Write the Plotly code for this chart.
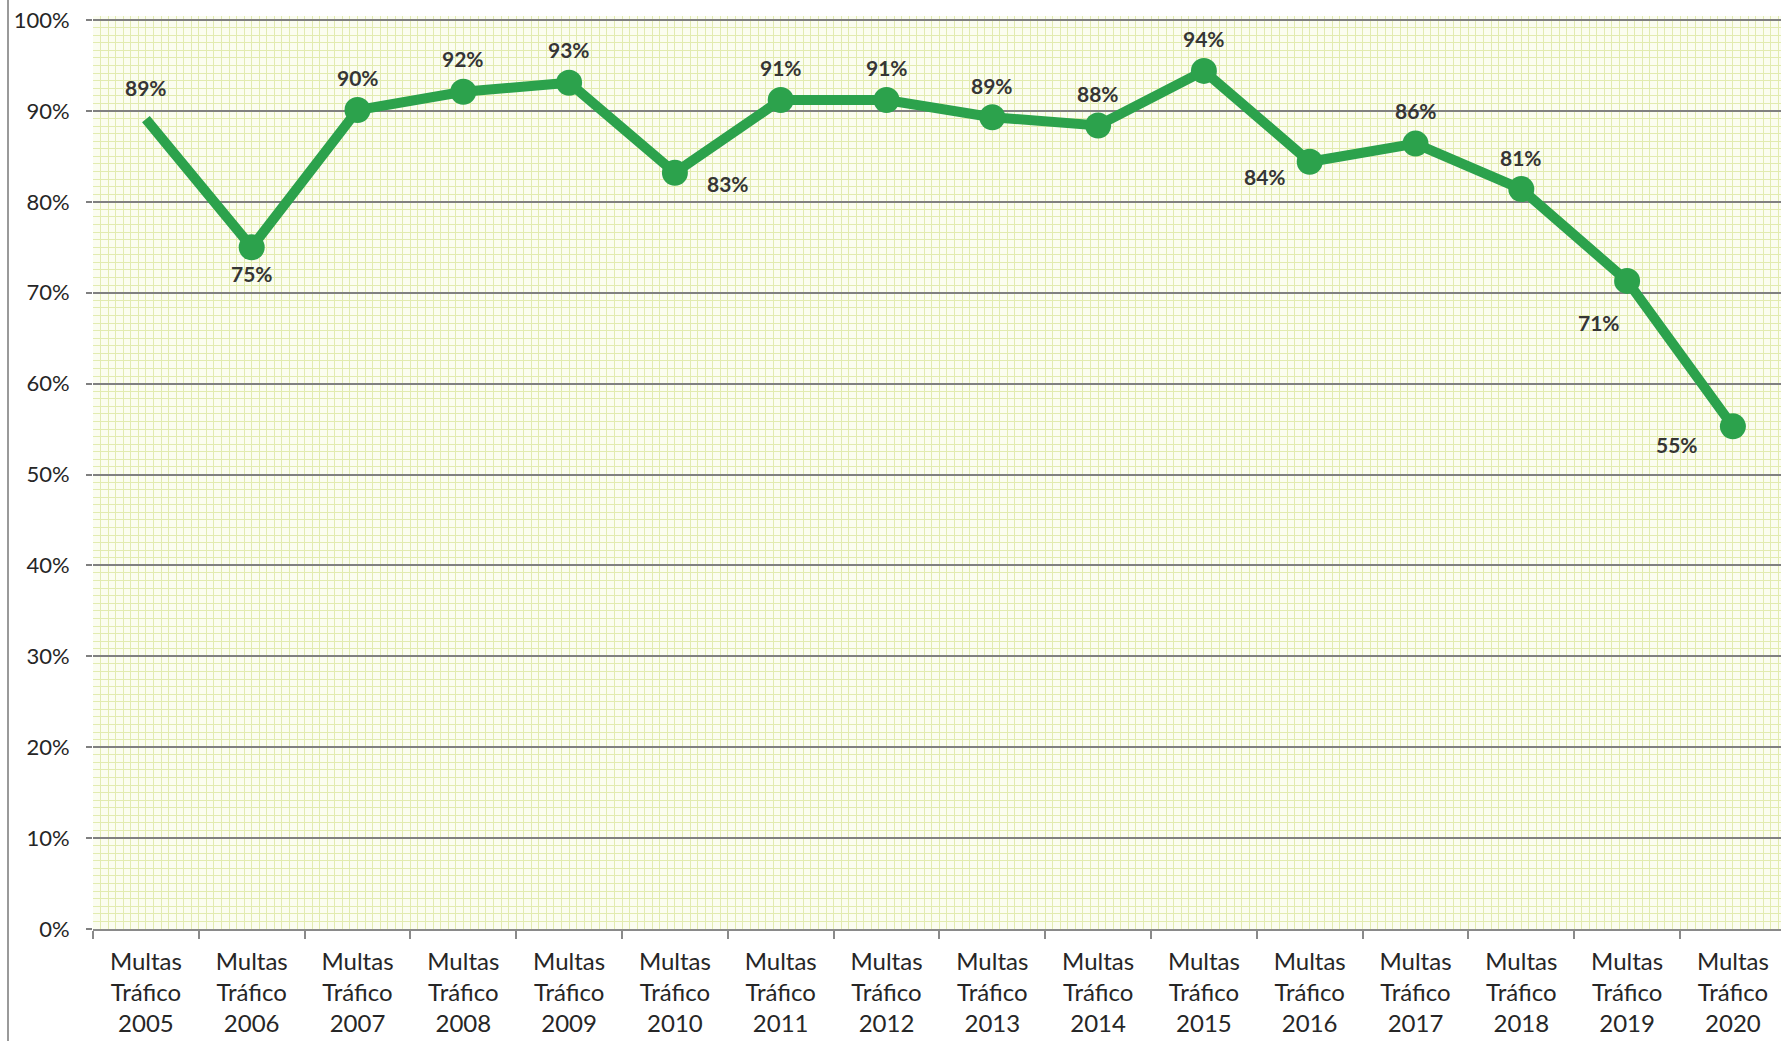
import plotly.graph_objects as go

categories = ["Multas<br>Tráfico<br>2005", "Multas<br>Tráfico<br>2006", "Multas<br>Tráfico<br>2007",
              "Multas<br>Tráfico<br>2008", "Multas<br>Tráfico<br>2009", "Multas<br>Tráfico<br>2010",
              "Multas<br>Tráfico<br>2011", "Multas<br>Tráfico<br>2012", "Multas<br>Tráfico<br>2013",
              "Multas<br>Tráfico<br>2014", "Multas<br>Tráfico<br>2015", "Multas<br>Tráfico<br>2016",
              "Multas<br>Tráfico<br>2017", "Multas<br>Tráfico<br>2018", "Multas<br>Tráfico<br>2019",
              "Multas<br>Tráfico<br>2020"]
values = [0.891, 0.750, 0.901, 0.921, 0.931, 0.832, 0.912, 0.912, 0.893, 0.884,
          0.944, 0.844, 0.864, 0.814, 0.713, 0.553]
y_ticks = [0, 0.1, 0.2, 0.3, 0.4, 0.5, 0.6, 0.7, 0.8, 0.9, 1.0]

# label offsets from their point, in pixels (dx right, dy down) — styling only
label_offsets = [(0, -32), (0, 26), (0, -32), (0, -33), (0, -33), (53, 11), (0, -32), (0, -32),
                 (0, -32), (0, -32), (0, -32), (-45, 15), (0, -33), (0, -32), (-28, 42), (-56, 18)]

W, H = 1781, 1041
PAD = 4  # extra pixels above 100% so its gridline is not dropped at the edge
ML, MR, MT, MB = 93, 0, 20 - PAD, 112
GREEN = "#2ca24c"
FONT = "Lato"
LABEL_COLOR = "#353535"

idx = list(range(len(categories)))
marker_opacity = [0] + [1] * (len(categories) - 1)

fig = go.Figure()
fig.add_trace(go.Scatter(
    x=idx, y=values, mode="lines+markers",
    line=dict(color=GREEN, width=10),
    marker=dict(size=26, color=GREEN, opacity=marker_opacity),
    cliponaxis=False, showlegend=False, hoverinfo="skip",
))
# invisible companion trace so the overlay axis (category boundary ticks) is drawn
fig.add_trace(go.Scatter(x=idx, y=values, xaxis="x2", mode="lines", opacity=0,
                         showlegend=False, hoverinfo="skip"))

for i, v in enumerate(values):
    dx, dy = label_offsets[i]
    fig.add_annotation(x=idx[i], y=v, text=f"{round(v*100)}%", showarrow=False,
                       xshift=dx, yshift=-dy,
                       font=dict(family=FONT, size=21, color=LABEL_COLOR, weight="bold"))

plot_w = W - ML - MR
plot_h = H - MT - MB
xr = [-0.5, -0.5 + plot_w / 105.8]
yr = [0, (plot_h / (plot_h - PAD))]

fig.update_layout(
    width=W, height=H,
    margin=dict(l=ML, r=MR, t=MT, b=MB, autoexpand=False),
    paper_bgcolor="white",
    plot_bgcolor="#fbfdf0",
    font=dict(family=FONT, color="#262626"),
    xaxis=dict(
        range=xr, tickvals=idx, ticktext=categories, ticks="",
        showgrid=False, zeroline=False, showline=False, automargin=False,
        ticklabelstandoff=16, ticklabeloverflow="allow",
        tickfont=dict(family=FONT, size=24, color="#262626"),
        minor=dict(tick0=-0.5, dtick=1/14, showgrid=True, gridcolor="#e2ebb0", gridwidth=1, ticks=""),
    ),
    xaxis2=dict(
        range=xr, overlaying="x", anchor="y", side="bottom",
        tickvals=[i - 0.5 for i in idx], ticks="outside", ticklen=8, tickwidth=2,
        tickcolor="#8a8a8a", showticklabels=False, showgrid=False, zeroline=False,
        showline=True, linecolor="#8a8a8a", linewidth=2, automargin=False,
    ),
    yaxis=dict(
        range=yr, tickvals=y_ticks, tickformat=".0%",
        showgrid=True, gridcolor="#808080", gridwidth=2,
        ticks="outside", ticklen=6, tickwidth=2, tickcolor="#808080",
        zeroline=False, showline=False, automargin=False,
        ticklabelstandoff=12, ticklabeloverflow="allow",
        tickfont=dict(family=FONT, size=22, color="#262626"),
        minor=dict(tick0=0, dtick=0.1/12, showgrid=True, gridcolor="#e2ebb0", gridwidth=1, ticks=""),
    ),
    shapes=[dict(type="line", xref="paper", yref="paper",
                 x0=-(ML - 8) / plot_w, x1=-(ML - 8) / plot_w,
                 y0=-MB / plot_h, y1=1 + MT / plot_h,
                 line=dict(color="#9a9a9a", width=2))],
)

fig.write_html("out.html", config={"displayModeBar": False},
               post_script="document.body.style.margin='0px';document.body.style.overflow='hidden';")
